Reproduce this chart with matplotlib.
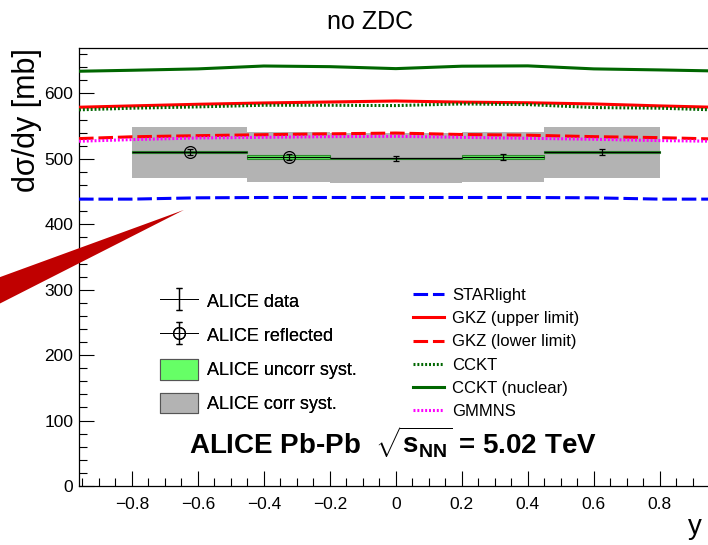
import matplotlib
matplotlib.use("Agg")
import matplotlib.pyplot as plt
from matplotlib.patches import Polygon, Patch
from matplotlib.lines import Line2D
from matplotlib.container import ErrorbarContainer
from matplotlib.legend_handler import HandlerErrorbar
from matplotlib.ticker import MultipleLocator, FuncFormatter
import numpy as np

plt.rcParams['font.family'] = ['Liberation Sans', 'DejaVu Sans']
plt.rcParams['mathtext.fontset'] = 'custom'
plt.rcParams['mathtext.rm'] = 'Liberation Sans'
plt.rcParams['mathtext.bf'] = 'Liberation Sans:bold'
plt.rcParams['mathtext.it'] = 'Liberation Sans:italic'
plt.rcParams['lines.scale_dashes'] = False

# ALICE measurement (rapidity bins)
bin_lo = [-0.8, -0.45, -0.2, 0.2, 0.45]
bin_hi = [-0.45, -0.2, 0.2, 0.45, 0.8]
bin_x = [-0.625, -0.325, 0.0, 0.325, 0.625]
dsdy = [510.5, 503.0, 501.0, 503.0, 510.5]
stat_err = [4.8, 4.6, 3.6, 4.6, 4.8]
uncorr_syst = [1.5, 3.0, 1.0, 3.0, 1.5]
corr_syst = [39.0, 38.5, 38.5, 38.5, 39.0]
is_reflected = [True, True, False, False, False]

# model predictions
rap = [-0.96, -0.8, -0.6, -0.4, -0.2, 0.0, 0.2, 0.4, 0.6, 0.8, 0.96]
starlight = [438.5, 438.5, 440.5, 441, 441, 441, 441, 441, 440.5, 438.5, 438.5]
gkz_upper = [579, 581, 583.5, 585.5, 587, 588.5, 586.8, 585.8, 584, 581, 579]
gkz_lower = [531, 533.8, 535.5, 537, 538.3, 539.5, 537.3, 536.2, 534, 532.5, 530.5]
cckt = [575, 577.5, 579.5, 582, 582, 581.5, 584, 583, 578.5, 577.5, 575]
cckt_nuclear = [634, 635.5, 637.6, 642, 641, 638, 641.7, 642.2, 637.6, 636, 634.5]
gmmns = [527, 529.5, 532, 533, 534, 534.5, 533, 531.5, 530, 528, 527]

# stray red wedge (arrow) seen on the canvas, in data coordinates
wedge_x = [-0.642, -1.25, -1.25]
wedge_y = [422, 310, 266]


def fmt_tick(v, pos):
    s = f"{v:g}"
    if s in ("-0", "0"):
        return "0"
    return s.replace("-", "\u2212")


def main():
    fig = plt.figure(figsize=(7.08, 5.45), dpi=100)
    ax = fig.add_axes([0.1116, 0.1083, 0.8949, 0.8042])

    lo = np.array(bin_lo)
    hi = np.array(bin_hi)
    x = np.array(bin_x)
    y = np.array(dsdy)
    refl = np.array(is_reflected)
    stat = np.array(stat_err)
    corr = np.array(corr_syst)
    unc = np.array(uncorr_syst)

    # correlated systematics (gray) and uncorrelated (green)
    ax.bar((lo + hi) / 2, 2 * corr, bottom=y - corr, width=hi - lo,
           color='#b3b3b3', edgecolor='none', zorder=1)
    ax.bar((lo + hi) / 2, 2 * unc, bottom=y - unc, width=hi - lo,
           color='#66ff66', edgecolor='#2e8b2e', linewidth=0.8, zorder=2)

    # theory curves
    l_star, = ax.plot(rap, starlight, color='#0000ff', lw=2.2,
                      dashes=(10.5, 3.5), zorder=3)
    l_gkzu, = ax.plot(rap, gkz_upper, color='#ff0000', lw=2.2, zorder=3)
    l_gkzl, = ax.plot(rap, gkz_lower, color='#ff0000', lw=2.2,
                      dashes=(10.5, 3.5), zorder=3)
    l_cckt, = ax.plot(rap, cckt, color='#006600', lw=2.2,
                      dashes=(1.4, 1.4), zorder=3)
    l_ccktn, = ax.plot(rap, cckt_nuclear, color='#006600', lw=2.2, zorder=3)
    l_gmm, = ax.plot(rap, gmmns, color='#ff00ff', lw=2.2,
                     dashes=(1.4, 1.4), zorder=3)

    # data points: horizontal bin bars without caps, stat errors with caps
    xerr = (hi - lo) / 2
    ax.errorbar(x, y, xerr=xerr, fmt='none', ecolor='black',
                elinewidth=0.9, zorder=4)
    e_data = ax.errorbar(x[~refl], y[~refl], yerr=stat[~refl], fmt='none',
                         ecolor='black', elinewidth=0.9, capsize=2.5,
                         capthick=0.9, zorder=4)
    e_refl = ax.errorbar(x[refl], y[refl], yerr=stat[refl], fmt='o',
                         mfc='none', mec='black', mew=0.9, ms=8.5,
                         ecolor='black', elinewidth=0.9, capsize=2.5,
                         capthick=0.9, zorder=4)

    ax.add_patch(Polygon(np.column_stack([wedge_x, wedge_y]), closed=True,
                         color='#c00000', lw=0, clip_on=False, zorder=10))

    ax.set_xlim(-0.96, 0.96)
    ax.set_ylim(0, 670)
    ax.xaxis.set_major_locator(MultipleLocator(0.2))
    ax.xaxis.set_minor_locator(MultipleLocator(0.05))
    ax.yaxis.set_major_locator(MultipleLocator(100))
    ax.yaxis.set_minor_locator(MultipleLocator(20))
    ax.xaxis.set_major_formatter(FuncFormatter(fmt_tick))
    ax.tick_params(which='major', direction='in', length=11, width=0.8,
                   labelsize=12.5, top=False, right=False)
    ax.tick_params(which='minor', direction='in', length=5.5, width=0.8,
                   top=False, right=False)
    ax.tick_params(axis='x', pad=8)
    ax.tick_params(axis='y', pad=4)
    for s in ax.spines.values():
        s.set_linewidth(0.9)

    fig.text(370 / 708, 1 - 22 / 545, "no ZDC", ha='center', va='center',
             fontsize=18)
    fig.text(27 / 708, 1 - 48 / 545, "d\u03c3/dy [mb]", rotation=90,
             ha='center', va='top', fontsize=22)
    fig.text(695 / 708, 1 - 527 / 545, "y", ha='center', va='center',
             fontsize=20)

    fig.text(189 / 708, 1 - 442 / 545,
             r"ALICE Pb-Pb  $\sqrt{\mathbf{s}_{\mathbf{NN}}}$ = 5.02 TeV",
             ha='left', va='center', fontsize=20, fontweight='bold')

    hbar = Line2D([], [], color='black', lw=0.7)
    h_unc = Patch(facecolor='#66ff66', edgecolor='#555555', lw=0.8)
    h_corr = Patch(facecolor='#b3b3b3', edgecolor='#555555', lw=0.8)
    leg1 = fig.legend([(hbar, e_data), (hbar, e_refl), h_unc, h_corr],
                      ["ALICE data", "ALICE reflected", "ALICE uncorr syst.",
                       "ALICE corr syst."],
                      loc='upper left', bbox_to_anchor=(160 / 708, 1 - 291 / 545),
                      frameon=False, fontsize=13, borderpad=0, borderaxespad=0,
                      handlelength=2.1, handleheight=1.4, handletextpad=0.5,
                      labelspacing=0.72,
                      handler_map={ErrorbarContainer: HandlerErrorbar(yerr_size=0.6)})
    fig.legend([l_star, l_gkzu, l_gkzl, l_cckt, l_ccktn, l_gmm],
               ["STARlight", "GKZ (upper limit)", "GKZ (lower limit)", "CCKT",
                "CCKT (nuclear)", "GMMNS"],
               loc='upper left', bbox_to_anchor=(413 / 708, 1 - 288 / 545),
               frameon=False, fontsize=12, borderpad=0, borderaxespad=0,
               handlelength=1.85, handletextpad=0.5, labelspacing=0.49)
    fig.add_artist(leg1)

    fig.savefig("out.png", dpi=100)


if __name__ == "__main__":
    main()
